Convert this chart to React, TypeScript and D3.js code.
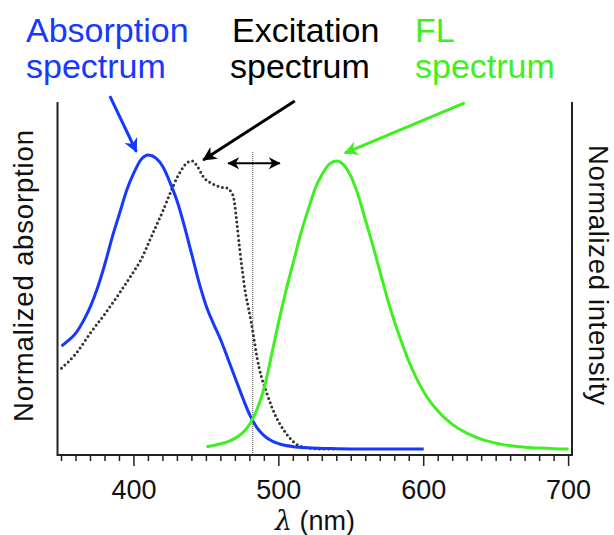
import React from "react";
import * as d3 from "d3";

// wavelength (nm) / normalized value pairs
const absWl = [350, 355, 360, 365, 370, 375, 380, 385, 390, 395, 400, 405, 410, 415, 420, 425, 430, 435, 440, 445, 450, 455, 460, 465, 470, 475, 480, 485, 490, 495, 500, 510, 520, 540, 560, 580, 600];
const absVal = [0.35, 0.37, 0.395, 0.435, 0.485, 0.55, 0.63, 0.72, 0.8, 0.88, 0.94, 0.985, 1.0, 0.99, 0.96, 0.905, 0.84, 0.755, 0.66, 0.565, 0.485, 0.425, 0.37, 0.305, 0.24, 0.175, 0.115, 0.072, 0.045, 0.028, 0.018, 0.008, 0.004, 0.001, 0, 0, 0];

const excWl = [350, 360, 370, 380, 390, 400, 405, 410, 415, 420, 425, 430, 435, 440, 444, 448, 452, 456, 460, 464, 467, 469, 471, 473, 475, 477, 479, 481, 483, 485, 488, 491, 495, 498, 502, 505, 510, 514, 520, 528, 540];
const excVal = [0.275, 0.325, 0.395, 0.46, 0.53, 0.605, 0.645, 0.7, 0.755, 0.81, 0.87, 0.925, 0.965, 0.98, 0.96, 0.925, 0.908, 0.898, 0.89, 0.888, 0.875, 0.85, 0.77, 0.68, 0.6, 0.53, 0.48, 0.43, 0.37, 0.31, 0.245, 0.2, 0.145, 0.11, 0.075, 0.053, 0.025, 0.011, 0.004, 0.0, 0];

const flWl = [450, 455, 460, 465, 470, 475, 480, 485, 490, 495, 500, 505, 510, 515, 520, 525, 530, 535, 540, 545, 550, 555, 560, 565, 570, 575, 580, 585, 590, 595, 600, 605, 610, 615, 620, 630, 640, 650, 660, 670, 680, 690, 700];
const flVal = [0.008, 0.012, 0.018, 0.025, 0.037, 0.055, 0.085, 0.135, 0.21, 0.32, 0.435, 0.54, 0.635, 0.73, 0.81, 0.885, 0.935, 0.97, 0.98, 0.965, 0.925, 0.86, 0.775, 0.69, 0.6, 0.51, 0.43, 0.36, 0.295, 0.24, 0.195, 0.158, 0.128, 0.103, 0.083, 0.053, 0.033, 0.02, 0.011, 0.006, 0.003, 0.001, 0];

const majorTicks = [400, 500, 600, 700];
const minorTicks = d3.range(350, 701, 10);

// annotation arrows in data coordinates: [fromWl, fromVal, toWl, toVal]
const blueArrow = [383.4, 1.2, 401.7, 1.011];
const blackArrow = [511, 1.184, 447.8, 0.983];
const greenArrow = [628.3, 1.177, 545.5, 1.006];
const doubleArrow = [465, 500.7, 0.972];
const excLineWl = 482;
const excLineTop = 1.01;

const BLUE = "#1638ff";
const GREEN = "#3ef020";
const FONT = "'Liberation Sans', Arial, Helvetica, sans-serif";

export default function App() {
  const W = 614, H = 535;
  const x = d3.scaleLinear().domain([350, 700]).range([61.5, 568.6]);
  const y = d3.scaleLinear().domain([0, 1]).range([449, 155]);
  const frameL = 57.5, frameR = 572, frameT = 102, frameB = 455;

  const mk = (wl: number[], v: number[]) =>
    d3.line<number>().x((_, i) => x(wl[i])).y((d) => y(d)).curve(d3.curveMonotoneX)(v) || "";

  const arrow = (a: number[], id: string, color: string, w: number) => (
    <line x1={x(a[0])} y1={y(a[1])} x2={x(a[2])} y2={y(a[3])} stroke={color} strokeWidth={w} markerEnd={`url(#${id})`} />
  );

  const marker = (id: string, color: string, size = 1) => (
    <marker id={id} viewBox="-14 -8 16 16" refX={0} refY={0} markerWidth={16 * size} markerHeight={16 * size} markerUnits="userSpaceOnUse" orient="auto-start-reverse">
      <path d="M1,0 L-13,-7 L-9,0 L-13,7 Z" fill={color} />
    </marker>
  );

  return (
    <svg width={W} height={H} style={{ position: "absolute", left: 0, top: 0, background: "#fff" }} fontFamily={FONT}>
      <defs>
        {marker("mBlue", BLUE)}
        {marker("mBlack", "#000")}
        {marker("mGreen", GREEN)}
        {marker("mDbl", "#000", 0.85)}
      </defs>
      <rect width={W} height={H} fill="#fff" />

      {/* titles */}
      <g fontSize={34}>
        <text x={26} y={42} fill={BLUE}>Absorption</text>
        <text x={26} y={78} fill={BLUE}>spectrum</text>
        <text x={232} y={42} fill="#000">Excitation</text>
        <text x={230} y={78} fill="#000">spectrum</text>
        <text x={415} y={42} fill={GREEN}>FL</text>
        <text x={415} y={78} fill={GREEN}>spectrum</text>
      </g>

      {/* frame */}
      <g stroke="#222" strokeWidth={2} fill="none">
        <line x1={frameL} y1={frameT} x2={frameL} y2={frameB + 1} />
        <line x1={frameR} y1={frameT} x2={frameR} y2={frameB + 1} />
        <line x1={frameL} y1={frameB} x2={frameR} y2={frameB} />
      </g>
      <g stroke="#222" strokeWidth={1.5}>
        {minorTicks.map((t) => (
          <line key={t} x1={x(t)} x2={x(t)} y1={frameB} y2={frameB + (majorTicks.includes(t) ? 11 : 6)} />
        ))}
      </g>
      <g fontSize={27} textAnchor="middle" fill="#111">
        {majorTicks.map((t) => (
          <text key={t} x={x(t)} y={499}>{t}</text>
        ))}
        <text x={315} y={530}>
          <tspan fontStyle="italic" fontFamily="'DejaVu Serif', serif">λ</tspan> (nm)
        </text>
      </g>

      {/* axis titles */}
      <text transform={`translate(33,276) rotate(-90)`} fontSize={27.5} textAnchor="middle" fill="#111" textLength={292} lengthAdjust="spacing">Normalized absorption</text>
      <text transform={`translate(589,275) rotate(90)`} fontSize={27.5} textAnchor="middle" fill="#111" textLength={260} lengthAdjust="spacing">Normalized intensity</text>

      {/* excitation wavelength line */}
      <line x1={x(excLineWl)} x2={x(excLineWl)} y1={y(excLineTop)} y2={frameB - 1} stroke="#444" strokeWidth={1} strokeDasharray="1 1" />

      {/* curves */}
      <path d={mk(excWl, excVal)} fill="none" stroke="#333" strokeWidth={3} strokeLinecap="round" strokeDasharray="0 4.6" />
      <path d={mk(absWl, absVal)} fill="none" stroke={BLUE} strokeWidth={3} />
      <path d={mk(flWl, flVal)} fill="none" stroke={GREEN} strokeWidth={3} />

      {/* annotations */}
      {arrow(blueArrow, "mBlue", BLUE, 3)}
      {arrow(blackArrow, "mBlack", "#000", 3)}
      {arrow(greenArrow, "mGreen", GREEN, 3)}
      <line x1={x(doubleArrow[0])} x2={x(doubleArrow[1])} y1={y(doubleArrow[2])} y2={y(doubleArrow[2])} stroke="#000" strokeWidth={2} markerStart="url(#mDbl)" markerEnd="url(#mDbl)" />
    </svg>
  );
}
